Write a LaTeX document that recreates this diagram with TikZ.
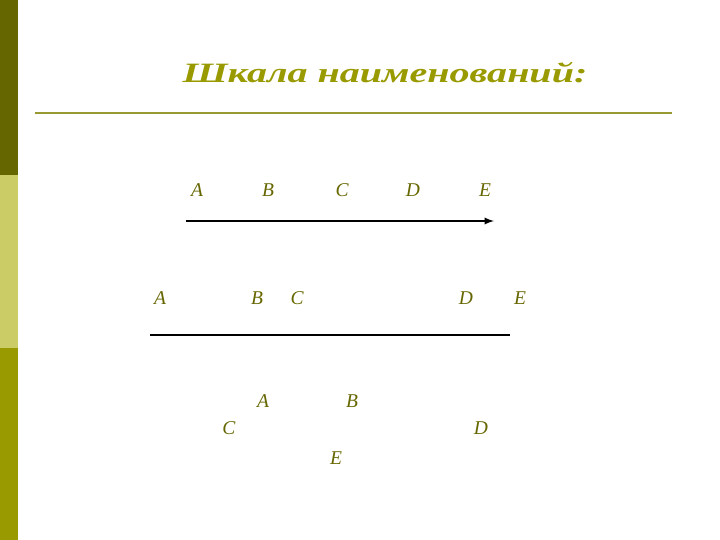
\documentclass[tikz,border=0pt]{standalone}
\usepackage{fontspec}
\setmainfont{Liberation Serif}
\usepackage{tikz}
\usetikzlibrary{arrows}
\definecolor{olivedark}{RGB}{102,102,0}
\definecolor{olivelight}{RGB}{204,204,102}
\definecolor{olivemid}{RGB}{153,153,0}
\definecolor{oliverule}{RGB}{153,153,51}
\definecolor{letterolive}{RGB}{102,102,0}
\begin{document}
\begin{tikzpicture}[x=1pt,y=-1pt]
    \tikzstyle{lettr}=[inner sep=0pt,text=letterolive,%
    font=\fontsize{19.5}{19.5}\selectfont\itshape] %
    \tikzstyle{titl}=[inner sep=0pt,text=olivemid,%
    font=\fontsize{28}{28}\selectfont\bfseries\itshape] %
    \tikzstyle{scaleline}=[line width=2.2pt,black] %

    \useasboundingbox (0,0) rectangle (720,540);
    %% side bar
    \fill[olivedark] (0,0) rectangle (17.5,175);
    \fill[olivelight] (0,175) rectangle (17.5,348);
    \fill[olivemid] (0,348) rectangle (17.5,540);

    \node[titl] (TITLE) at (385,73) {\scalebox{1.43}[1]{Шкала наименований:}};
    \coordinate (RULEL) at (35,113);
    \coordinate (RULER) at (672,113);
    \draw[oliverule,line width=2.2pt] (RULEL) -- (RULER);

    %% first scale
    \node[lettr] (A1) at (197,190) {A};
    \node[lettr] (B1) at (268,190) {B};
    \node[lettr] (C1) at (342,190) {C};
    \node[lettr] (D1) at (413,190) {D};
    \node[lettr] (E1) at (485,190) {E};
    \coordinate (ARRL) at (186,221);
    \coordinate (ARRR) at (494,221);
    \draw[scaleline,->,>=latex] (ARRL) -- (ARRR);

    %% second scale
    \node[lettr] (A2) at (160,298) {A};
    \node[lettr] (B2) at (257,298) {B};
    \node[lettr] (C2) at (297,298) {C};
    \node[lettr] (D2) at (466,298) {D};
    \node[lettr] (E2) at (520,298) {E};
    \coordinate (LINL) at (150,335);
    \coordinate (LINR) at (510,335);
    \draw[scaleline] (LINL) -- (LINR);

    %% scattered
    \node[lettr] (A3) at (263,401) {A};
    \node[lettr] (B3) at (352,401) {B};
    \node[lettr] (C3) at (229,428) {C};
    \node[lettr] (D3) at (481,428) {D};
    \node[lettr] (E3) at (336,458) {E};
\end{tikzpicture}
\end{document}
